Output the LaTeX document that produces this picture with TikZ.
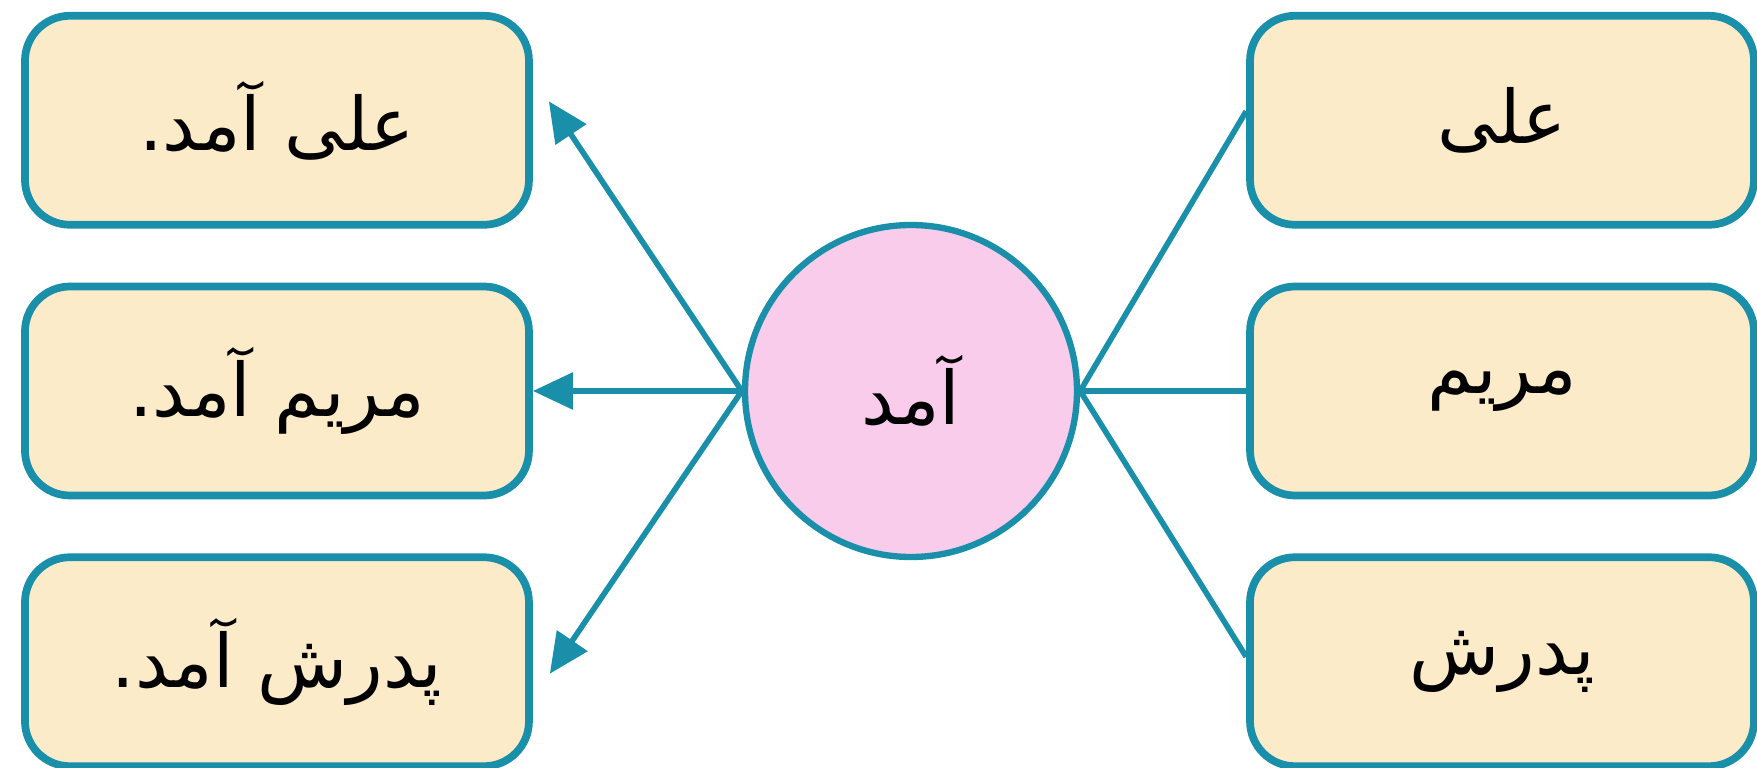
\documentclass[tikz,border=0pt]{standalone}
\usepackage{fontspec}
\newfontfamily\arabicfont[Script=Arabic]{DejaVu Sans}
\TeXXeTstate=1
\usetikzlibrary{arrows.meta, positioning}
\definecolor{linkteal}{HTML}{1A8FAA}
\definecolor{wordfill}{HTML}{FCEBC9}
\definecolor{verbfill}{HTML}{F8CCEA}
\newcommand{\fa}[1]{{\arabicfont\beginR #1\endR}}

\begin{document}
\begin{tikzpicture}[
        node distance=0.54cm,
        word/.style={draw=linkteal, line width=2.2pt, rectangle, rounded corners=0.45cm, minimum width=5.04cm, minimum height=2.09cm, align=center, fill=wordfill, font=\fontsize{21}{25}\selectfont},
        verb/.style={draw=linkteal, line width=1.8pt, circle, minimum size=3.32cm, align=center, fill=verbfill, font=\fontsize{21}{25}\selectfont},
        arrow/.style={-{Triangle[length=0.4cm, width=0.36cm]}, linkteal, line width=1.6pt},
        link/.style={linkteal, line width=1.6pt}
    ]
        \useasboundingbox (0,0) rectangle (17.57,-7.68);
        \node (came) [verb] at (9.11,-3.91) {\fa{آمد}};

        % subjects on the right
        \node (maryam) [word, right=1.66cm of came] {\fa{مریم}};
        \node (ali) [word, above=of maryam] {\fa{علی}};
        \node (pedar) [word, below=of maryam] {\fa{پدرش}};

        % sentences on the left
        \node (maryam_came) [word, left=2.09cm of came] {\fa{مریم آمد.}};
        \node (ali_came) [word, above=of maryam_came] {\fa{علی آمد.}};
        \node (pedar_came) [word, below=of maryam_came] {\fa{پدرش آمد.}};

        \draw [link] (came.east) -- ([yshift=0.09cm]ali.west);
        \draw [link] (came.east) -- (maryam.west);
        \draw [link] (came.east) -- ([yshift=0.05cm]pedar.west);
        \draw [arrow] (came.west) -- ([shift={(0.16,0.19)}]ali_came.east);
        \draw [arrow] (came.west) -- (maryam_came.east);
        \draw [arrow] (came.west) -- ([shift={(0.17,-0.12)}]pedar_came.east);
    \end{tikzpicture}
\end{document}
